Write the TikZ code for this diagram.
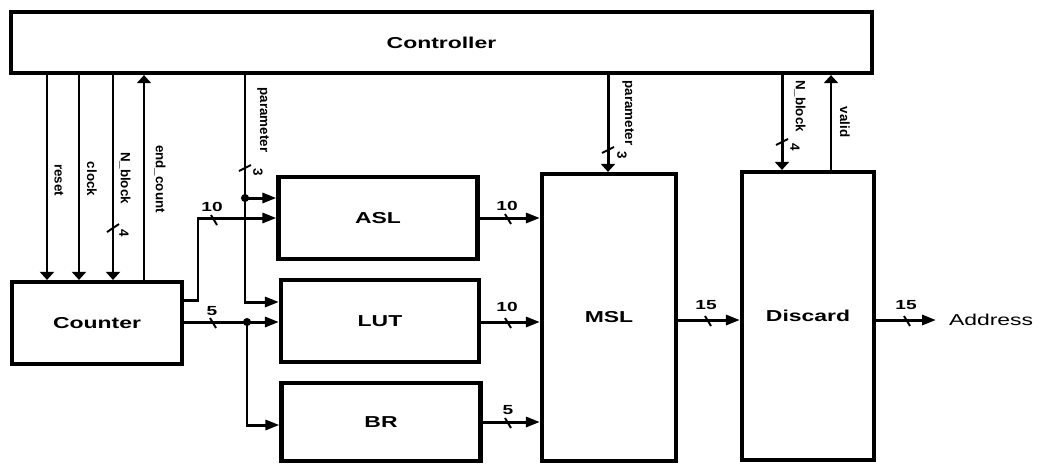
\documentclass[tikz,border=0pt]{standalone}
\usepackage{fontspec}
\setmainfont{Liberation Sans}
\newfontfamily\widefont{Liberation Sans}[FakeStretch=1.45]
\usetikzlibrary{arrows.meta}

\begin{document}
\begin{tikzpicture}[
    x=0.02cm, y=-0.02cm,
    block/.style={rectangle, draw, line width=2.4pt, inner sep=0pt,
                  font={\widefont\bfseries\fontsize{9}{10}\selectfont}},
    wire/.style={line width=1.3pt},
    bus/.style={line width=1.7pt},
    htip/.style={-{Triangle[length=0.28cm, width=0.2cm]}},
    vtip/.style={-{Triangle[length=0.16cm, width=0.28cm]}},
    tick/.style={line width=1.1pt},
    sig/.style={rotate=-90, inner sep=0pt, font={\bfseries\fontsize{7.6}{9}\selectfont}},
    width/.style={inner sep=0pt, font={\widefont\bfseries\fontsize{7.5}{8}\selectfont}},
    dot/.style={circle, fill, inner sep=0pt, minimum size=4.6pt}
]
    \useasboundingbox (0,0) rectangle (1041,464);

    % blocks
    \node[block, minimum width=17.22cm, minimum height=1.22cm] (ctrl) at (441.5,42.5) {Controller};
    \node[block, minimum width=3.4cm, minimum height=1.64cm] (cnt) at (97,323) {Counter};
    \node[block, minimum width=3.98cm, minimum height=1.64cm] (asl) at (378,218) {ASL};
    \node[block, minimum width=3.96cm, minimum height=1.64cm] (lut) at (380,321) {LUT};
    \node[block, minimum width=3.98cm, minimum height=1.56cm] (br) at (381,422) {BR};
    \node[block, minimum width=2.68cm, minimum height=5.74cm] (msl) at (609,317.5) {MSL};
    \node[block, minimum width=2.64cm, minimum height=5.76cm] (disc) at (808,316) {Discard};
    \node[anchor=west, inner sep=0pt, outer sep=0pt, text depth=0pt,
          font={\widefont\fontsize{9}{10}\selectfont}] (addr) at (949,320) {Address};
    \coordinate (addrin) at (936,320);

    % wire positions
    \coordinate (rst) at (47,0);
    \coordinate (clk) at (79,0);
    \coordinate (nbl) at (113,0);
    \coordinate (endc) at (144,0);
    \coordinate (par) at (245,0);
    \coordinate (parm) at (608,0);
    \coordinate (nbd) at (782,0);
    \coordinate (vld) at (831,0);
    \coordinate (jog) at (198,0);
    \coordinate (cup) at (0,300);
    \coordinate (aslp) at (0,198);
    \coordinate (lutp) at (0,302);
    \coordinate (lin) at (0,322);
    \coordinate (brin) at (0,425);
    \coordinate (outy) at (0,320);
    \coordinate (spl) at (247,322);

    % controller to counter
    \draw[wire, vtip] (ctrl.south -| rst) -- (cnt.north -| rst);
    \draw[wire, vtip] (ctrl.south -| clk) -- (cnt.north -| clk);
    \draw[bus, vtip] (ctrl.south -| nbl) -- (cnt.north -| nbl);
    \draw[wire, vtip] (cnt.north -| endc) -- (ctrl.south -| endc);

    % parameter to ASL and LUT
    \draw[bus, htip] (ctrl.south -| par) |- (lut.west |- lutp);
    \node[dot] (pdot) at (par |- aslp) {};
    \draw[bus, htip] (pdot.center) -- (asl.west |- aslp);

    % counter outputs
    \draw[bus, htip] (cnt.east |- cup) -| (jog |- asl) -- (asl.west);
    \draw[bus, htip] (cnt.east |- lin) -- (lut.west |- lin);
    \node[dot] (sdot) at (spl) {};
    \draw[bus, htip] (sdot.center) |- (br.west |- brin);

    % into MSL
    \draw[bus, htip] (asl.east) -- (msl.west |- asl.east);
    \draw[bus, htip] (lut.east |- lin) -- (msl.west |- lin);
    \draw[bus, htip] (br.east) -- (msl.west |- br.east);
    \draw[bus, vtip] (ctrl.south -| parm) -- (msl.north -| parm);

    % discard
    \draw[bus, vtip] (ctrl.south -| nbd) -- (disc.north -| nbd);
    \draw[wire, vtip] (disc.north -| vld) -- (ctrl.south -| vld);
    \draw[bus, htip] (msl.east |- outy) -- (disc.west |- outy);
    \draw[bus, htip] (disc.east |- outy) -- (addrin);

    % signal names
    \node[sig] (lrst) at (59,180) {reset};
    \node[sig] (lclk) at (92,179) {clock};
    \node[sig] (lnbl) at (125,178) {N\_block};
    \node[sig] (lend) at (160,179) {end\_count};
    \node[sig] (lpar) at (263,120) {parameter};
    \node[sig] (lparm) at (628,113) {parameter};
    \node[sig] (lnbd) at (800,106) {N\_block};
    \node[sig] (lvld) at (845,122) {valid};

    % bus widths
    \draw[tick] (107,232) -- (119,224);
    \node[sig] (w4a) at (124,233) {4};
    \draw[tick] (239,171) -- (251,165);
    \node[sig] (w3a) at (258,172) {3};
    \draw[tick] (602,153) -- (614,147);
    \node[sig] (w3b) at (622,155) {3};
    \draw[tick] (776,145) -- (788,139);
    \node[sig] (w4b) at (795,147) {4};

    \draw[tick] (211,215) -- (217,225);
    \node[width] (w10a) at (212,207) {10};
    \draw[tick] (210,318) -- (216,328);
    \node[width] (w5a) at (212,311) {5};
    \draw[tick] (505,214) -- (511,224);
    \node[width] (w10b) at (507,206) {10};
    \draw[tick] (505,318) -- (511,328);
    \node[width] (w10c) at (507,307) {10};
    \draw[tick] (505,418) -- (511,428);
    \node[width] (w5b) at (508,410) {5};
    \draw[tick] (705,316) -- (711,326);
    \node[width] (w15a) at (706,305) {15};
    \draw[tick] (904,316) -- (910,326);
    \node[width] (w15b) at (906,305) {15};
\end{tikzpicture}
\end{document}
